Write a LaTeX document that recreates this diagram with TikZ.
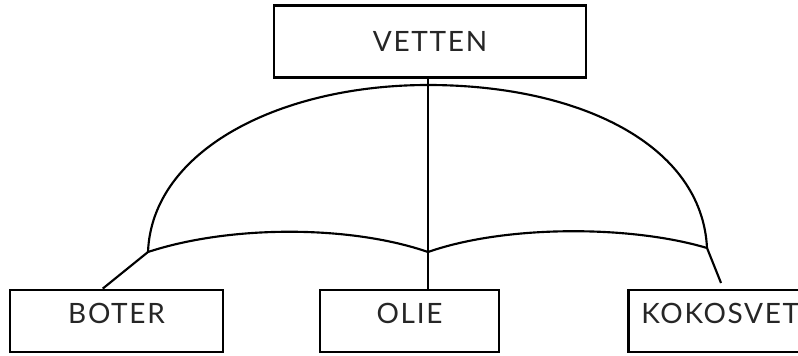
\documentclass[tikz,border=0pt]{standalone}
\usepackage{fontspec}
\setmainfont{Lato}[LetterSpace=6]
\usetikzlibrary{calc}

\begin{document}
\begin{tikzpicture}[x = 0.75pt, y = -0.75pt,
        box/.style = {draw, line width = 2.1pt, inner sep = 0pt, text = black!85,
                      font = \fontsize{21}{25}\selectfont},
        arc/.style = {line width = 1.6pt, line join = round}]
        \clip (0,0) rectangle (798,356);

        \node (vetten)   [box, minimum width = 312*0.75pt, text height = 35pt, text depth = 19.5pt] at (430,41.5)  {VETTEN};
        \node (boter)    [box, minimum width = 213*0.75pt, text height = 24.75pt, text depth = 21.75pt] at (116.5,321) {BOTER};
        \node (olie)     [box, minimum width = 179*0.75pt, text height = 24.75pt, text depth = 21.75pt] at (409.5,321) {OLIE};
        \node (kokosvet) [box, anchor = west, minimum width = 220*0.75pt, text height = 24.75pt, text depth = 21.75pt,
                          align = left, text width = 194*0.75pt, inner xsep = 13*0.75pt] at (627,321) {KOKOSVET};

        \coordinate (jl) at (148,252);
        \coordinate (jm) at (428,252);
        \coordinate (jr) at (707,248);
        \coordinate (top) at (428,85);
        \coordinate (kend) at (721,283);

        % upper arc
        \draw[arc] (jl) .. controls (152,150) and (280,85) .. (top)
                        .. controls (580,85) and (702,145) .. (jr);
        % lower arcs
        \draw[arc] (jl) .. controls (230,225) and (350,225) .. (jm)
                        .. controls (505,225) and (630,225) .. (jr);

        \draw[arc] (vetten.south -| jm) -- (olie.north -| jm);
        \draw[arc] (jl) -- (boter.113.5);
        \draw[arc] (jr) -- (kend);

    \end{tikzpicture}
\end{document}
